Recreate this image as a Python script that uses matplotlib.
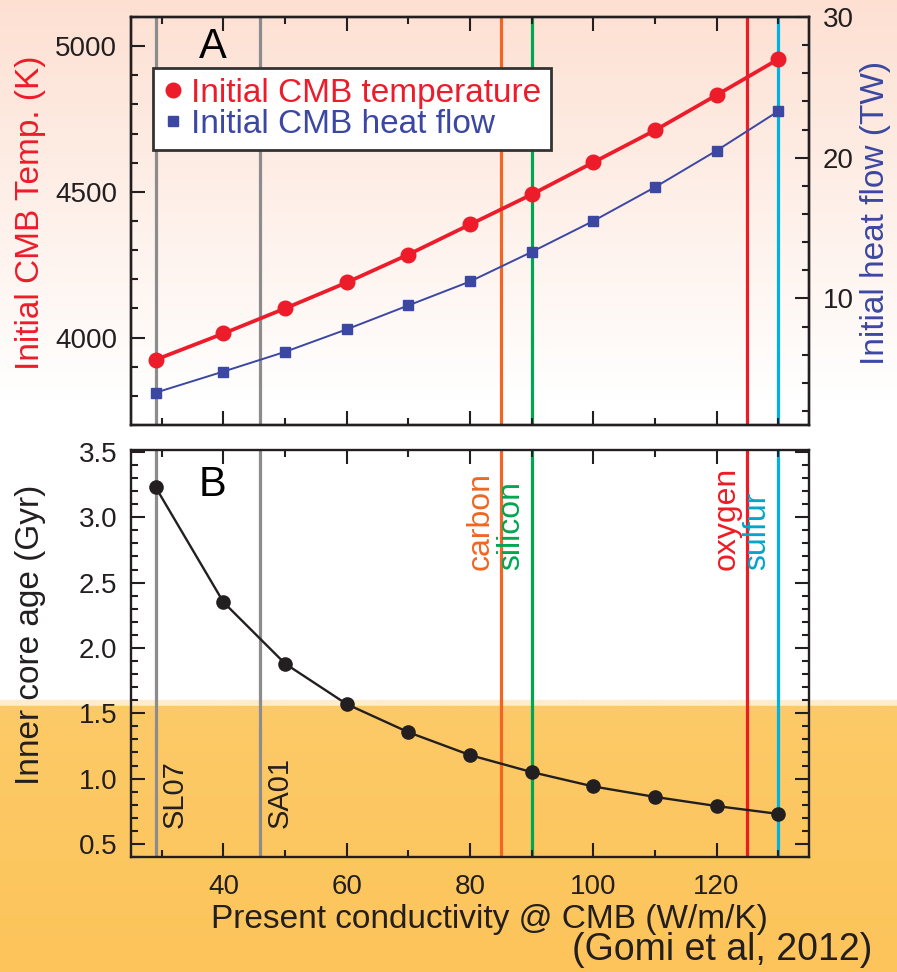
import numpy as np
import matplotlib
matplotlib.use("Agg")
import matplotlib.pyplot as plt
from matplotlib.ticker import MultipleLocator

plt.rcParams['font.family'] = ['Liberation Sans', 'DejaVu Sans']

# data
conductivity = [29, 40, 50, 60, 70, 80, 90, 100, 110, 120, 130]
cmb_temp = [3924, 4014, 4100, 4189, 4285, 4388, 4491, 4601, 4711, 4832, 4955]
cmb_heat = [3.3, 4.8, 6.2, 7.8, 9.5, 11.2, 13.3, 15.5, 17.9, 20.5, 23.3]
core_age = [3.23, 2.35, 1.88, 1.57, 1.355, 1.18, 1.05, 0.94, 0.86, 0.79, 0.73]

ref_lines = [29, 46]
ref_names = ["SL07", "SA01"]
elem_x = [85, 90, 125, 130]
elem_names = ["carbon", "silicon", "oxygen", "sulfur"]
elem_line_colors = ["#f26522", "#00a651", "#ed1c24", "#00b2e3"]
elem_text_colors = ["#f26522", "#00a651", "#ed1c24", "#00a6c8"]

RED = "#ec1c2a"
BLUE = "#3b47a2"
INK = "#231f20"

fig = plt.figure(figsize=(8.97, 9.72), dpi=100)

# background: pink fade at top, white middle, orange band at bottom
bg = fig.add_axes([0, 0, 1, 1], zorder=-10)
bg.set_axis_off()
H = 972
rows = np.ones((H, 3))
top = np.array([253, 224, 210]) / 255.0
for i in range(H):
    if i < 400:
        t = i / 400.0
        rows[i] = top * (1 - t) + np.ones(3) * t
    elif i < 700:
        rows[i] = 1.0
    elif i < 706:
        rows[i] = np.array([254, 236, 204]) / 255.0
    else:
        t = (i - 706) / (H - 706)
        rows[i] = np.array([253, 202, 104]) / 255.0 * (1 - t) + np.array([252, 196, 90]) / 255.0 * t
bg.imshow(rows[:, None, :].repeat(2, axis=1), aspect='auto', extent=[0, 1, 0, 1])
bg.set_xlim(0, 1)
bg.set_ylim(0, 1)

W = 897.0
left = 131 / W
width = (809 - 131) / W
axA = fig.add_axes([left, 1 - 425 / H, width, (425 - 17) / H])
axB = fig.add_axes([left, 1 - 857 / H, width, (857 - 450) / H])
axA.patch.set_alpha(0)
axB.patch.set_alpha(0)
axA2 = axA.twinx()
axA2.patch.set_alpha(0)

for ax in (axA, axB):
    ax.set_xlim(25, 135)
    ax.xaxis.set_major_locator(MultipleLocator(20))
    ax.xaxis.set_minor_locator(MultipleLocator(10))
    for x in ref_lines:
        ax.axvline(x, color="#8c8c8c", lw=2.3, zorder=1)
    for x, c in zip(elem_x, elem_line_colors):
        ax.axvline(x, color=c, lw=2.3, zorder=1)

for ax in (axA, axA2, axB):
    for s in ax.spines.values():
        s.set_linewidth(1.7)
        s.set_color(INK)
    ax.tick_params(which='both', direction='in', colors=INK, labelsize=20, width=1.5)
    ax.tick_params(which='major', length=10, pad=10)
    ax.tick_params(which='minor', length=5)

axA.tick_params(axis='x', which='both', top=True, bottom=True, labelbottom=False)
axB.tick_params(axis='x', which='both', top=True, bottom=True)
axB.tick_params(axis='x', which='major', pad=12)
axB.tick_params(axis='y', which='both', left=True, right=True)

# panel A
axA.set_ylim(3700, 5100)
axA.yaxis.set_major_locator(MultipleLocator(500))
axA.yaxis.set_minor_locator(MultipleLocator(100))
axA2.set_ylim(1, 30)
axA2.yaxis.set_major_locator(MultipleLocator(10))
axA2.yaxis.set_minor_locator(MultipleLocator(2))
axA2.set_xlim(25, 135)

l1, = axA.plot(conductivity, cmb_temp, color=RED, lw=2.7, marker='o', ms=10.5,
               label="Initial CMB temperature", zorder=3)
l2, = axA2.plot(conductivity, cmb_heat, color=BLUE, lw=1.4, marker='s', ms=7,
                label="Initial CMB heat flow", zorder=3)

axA.set_ylabel("Initial CMB Temp. (K)", color=RED, fontsize=24)
axA.yaxis.set_label_coords(-0.125, 0.52)
axA2.set_ylabel("Initial heat flow (TW)", color=BLUE, fontsize=24)
axA2.yaxis.set_label_coords(1.075, 0.52)

leg = axA2.legend(handles=[l1, l2], loc='upper left', bbox_to_anchor=(0.032, 0.875),
                  borderaxespad=0, fontsize=24, handlelength=0.6, handletextpad=0.25,
                  borderpad=0.3, labelspacing=0.0, fancybox=False, framealpha=1,
                  edgecolor="#333333", markerscale=1.0)
leg.get_frame().set_linewidth(2)
for txt, c in zip(leg.get_texts(), [RED, BLUE]):
    txt.set_color(c)
for h in leg.legend_handles:
    h.set_linestyle('none')

axA.text(0.12, 0.926, "A", transform=axA.transAxes, fontsize=30, color='black',
         ha='center', va='center')

# panel B
axB.set_ylim(0.4, 3.515)
axB.yaxis.set_major_locator(MultipleLocator(0.5))
axB.yaxis.set_minor_locator(MultipleLocator(0.1))
axB.yaxis.set_major_formatter(matplotlib.ticker.FormatStrFormatter('%.1f'))
axB.plot(conductivity, core_age, color=INK, lw=1.7, marker='o', ms=9.5, zorder=3)
axB.set_ylabel("Inner core age (Gyr)", color=INK, fontsize=24)
axB.yaxis.set_label_coords(-0.125, 0.545)
axB.set_xlabel("Present conductivity @ CMB (W/m/K)", color=INK, fontsize=24)
axB.xaxis.set_label_coords(0.528, -0.115)
axB.xaxis.label.set_va('top')

axB.text(0.12, 0.914, "B", transform=axB.transAxes, fontsize=30, color='black',
         ha='center', va='center')

btrans = matplotlib.transforms.blended_transform_factory(axB.transData, axB.transAxes)
for x, name in zip(ref_lines, ref_names):
    axB.text(x + 0.8, 0.072, name, transform=btrans, rotation=90, fontsize=21,
             color=INK, ha='left', va='bottom')
for x, name, c in zip(elem_x, elem_names, elem_text_colors):
    axB.text(x - 0.9, 0.705, name, transform=btrans, rotation=90, fontsize=23,
             color=c, ha='right', va='bottom')

fig.text(872 / W, 1 - 968 / H, "(Gomi et al, 2012)", fontsize=27, color=INK,
         ha='right', va='bottom')

fig.savefig("out.png", dpi=100)
